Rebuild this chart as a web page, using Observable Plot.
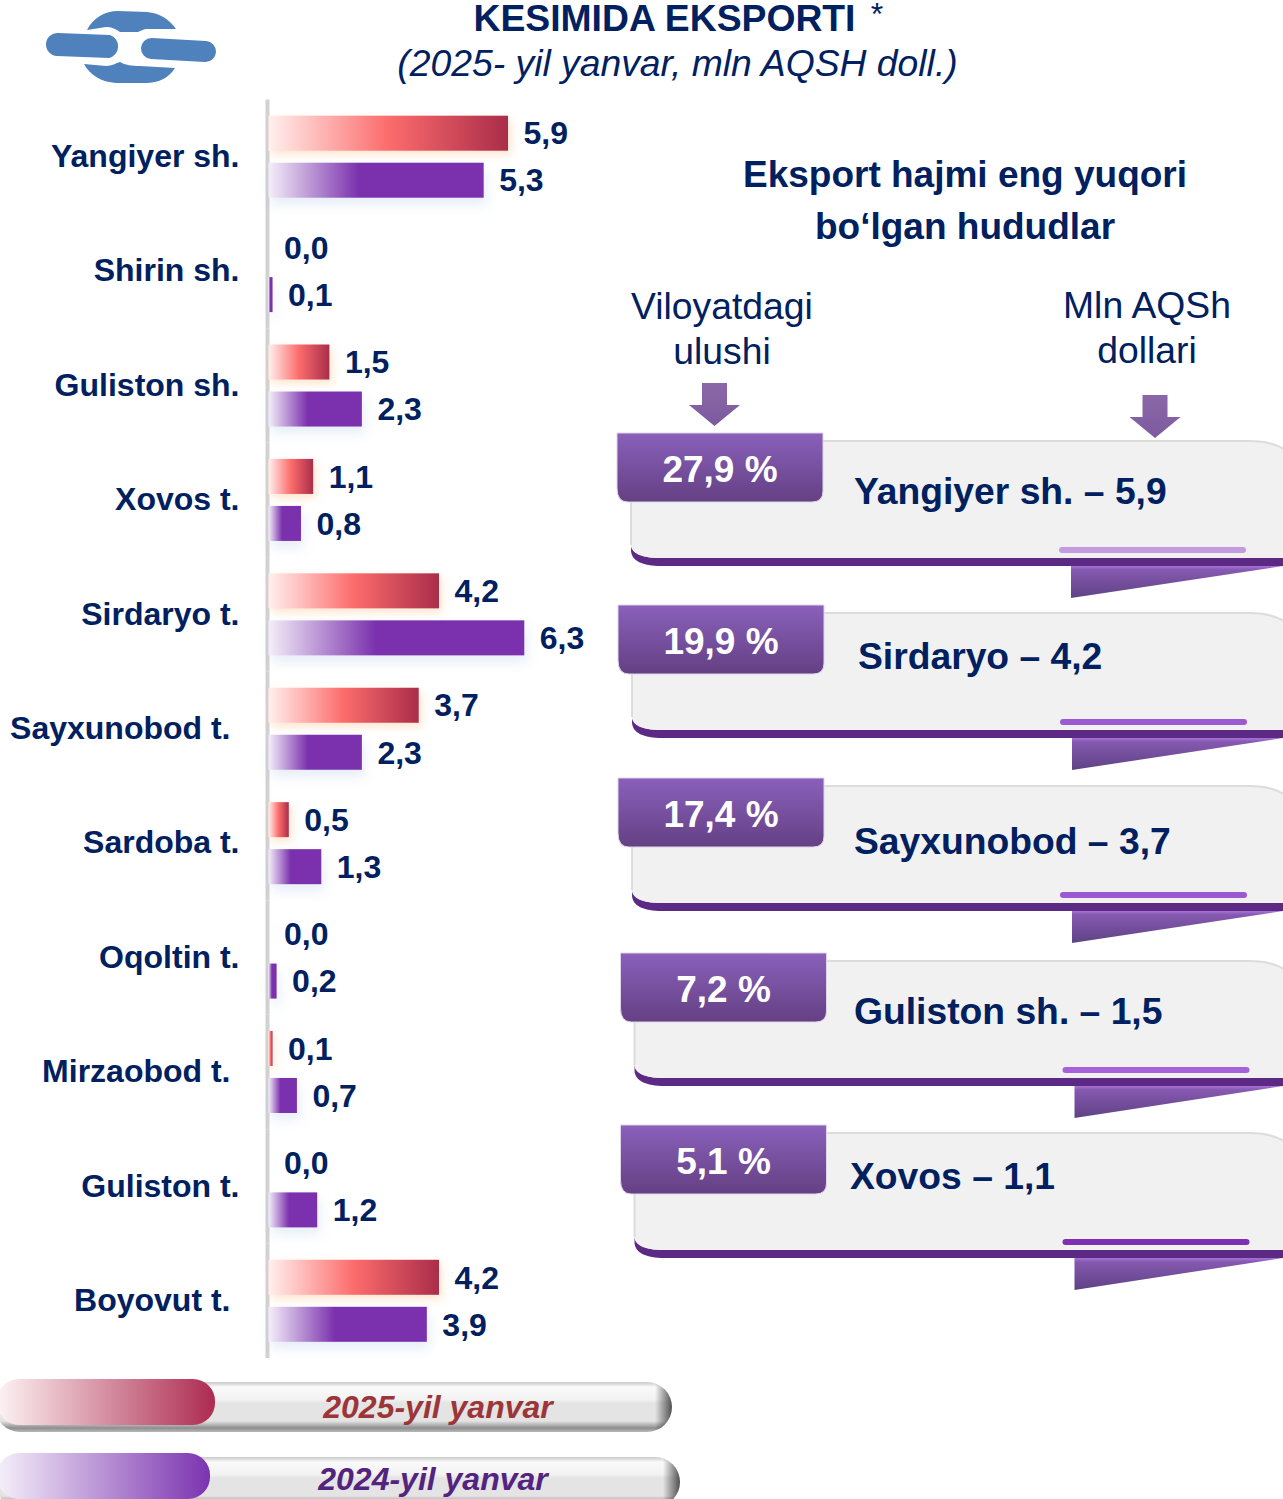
<!doctype html>
<html><head><meta charset="utf-8">
<script src="https://cdn.jsdelivr.net/npm/d3@7"></script>
<script src="https://cdn.jsdelivr.net/npm/@observablehq/plot@0.6"></script>
<style>
html,body{margin:0;padding:0;background:#fff;overflow:hidden}
svg{display:block}
g[fill="url(#barRed)"] rect{filter:drop-shadow(3px 4px 4px rgba(255,170,90,.3))}
g[fill="url(#barPurple)"] rect{filter:drop-shadow(3px 7px 6px rgba(120,160,220,.18))}
</style></head><body>
<script>
const categories = ["Yangiyer sh.","Shirin sh.","Guliston sh.","Xovos t.","Sirdaryo t.","Sayxunobod t.","Sardoba t.","Oqoltin t.","Mirzaobod t.","Guliston t.","Boyovut t."];
const values2025 = [5.9,0.0,1.5,1.1,4.2,3.7,0.5,0.0,0.1,0.0,4.2];
const values2024 = [5.3,0.1,2.3,0.8,6.3,2.3,1.3,0.2,0.7,1.2,3.9];
const seriesNames = ["2025-yil yanvar","2024-yil yanvar"];
const topNames = ["Yangiyer sh.","Sirdaryo","Sayxunobod","Guliston sh.","Xovos"];
const topValues = [5.9,4.2,3.7,1.5,1.1];
const topShares = [27.9,19.9,17.4,7.2,5.1];
const insetLabels = ["Sayxunobod t.","Mirzaobod t.","Boyovut t."];

const NAVY="#002060", FONT="'Liberation Sans',Arial,sans-serif";
const comma = v => d3.format(".1f")(v).replace(".",",");
const rows = categories.flatMap((c,i)=>[
  {cat:c,series:seriesNames[0],value:values2025[i]},
  {cat:c,series:seriesNames[1],value:values2024[i]}
]);

// layout of the decorative right column and legend
const cardLayout = [
  {tx:617,ty:433,nameX:854,nameY:491,bar:"#c39be0"},
  {tx:618,ty:605,nameX:858,nameY:656,bar:"#9b5ad2"},
  {tx:618,ty:778,nameX:854,nameY:841,bar:"#9b5ad2"},
  {tx:620.500,ty:953,nameX:854,nameY:1011,bar:"#a562da"},
  {tx:620.500,ty:1125,nameX:850,nameY:1176,bar:"#7d30b0"}
];

function defs(){
  const d=d3.create("svg:defs");
  const lin=(id,stops,dir)=>{
    const g=d.append("linearGradient").attr("id",id);
    if(dir==="v") g.attr("x1",0).attr("x2",0).attr("y1",0).attr("y2",1);
    stops.forEach(([o,c,a])=>{
      const s=g.append("stop").attr("offset",o).attr("stop-color",c);
      if(a!==undefined) s.attr("stop-opacity",a);
    });
  };
  lin("barRed",[[0,"#fff0ee"],[.5,"#fc6c6c"],[1,"#aa2d4a"]]);
  lin("barPurple",[[0,"#f4eef9"],[.42,"#7b31ad"],[1,"#7b31ad"]]);
  lin("pillRed",[[0,"#fdf3f4"],[1,"#ae2b50"]]);
  lin("pillPurple",[[0,"#f6f0fa"],[1,"#7b33b0"]]);
  lin("tab",[[0,"#8a60bb"],[1,"#644083"]],"v");
  lin("arrow",[[0,"#8a68a8"],[1,"#7d5a9e"]],"v");
  lin("tail",[[0,"#a873d6"],[.12,"#8559b0"],[1,"#5f4285"]],"v");
  lin("pill",[[0,"#c8c8c8"],[.1,"#fafafa"],[.35,"#f2f2f2"],[.42,"#e4e4e4"],[.78,"#e4e4e4"],[.92,"#8e8e8e"],[1,"#b8b8b8"]],"v");
  lin("pillEnd",[[0,"#000",0],[.975,"#000",0],[1,"#000",.65]]);
  return d.node();
}

function decor(){
  const g=d3.create("svg:g").attr("font-family",FONT);
  const text=(x,y,s,o={})=>g.append("text").attr("x",x).attr("y",y).attr("dy","0.35em")
    .attr("text-anchor",o.anchor||"middle").attr("font-size",o.size||37.300)
    .attr("font-weight",o.weight||"normal").attr("font-style",o.style||"normal")
    .attr("fill",o.fill||NAVY).text(s);

  // logo
  const logo=g.append("g").attr("fill","#4f81bd");
  logo.append("path").attr("d","M87 30C93 18 105 11 118 11L147 12C160 13 170 20 176 29L147 29C143 29 141 31 138 32L120 32C116 29 112 27 106 27Z");
  logo.append("path").attr("d","M84 64L106 66C112 66 116 63 120 62C125 65 132 66 140 66L175 68C169 78 158 83 146 83L116 83C101 82 90 75 84 64Z");
  logo.append("path").attr("d","M58 33L110 35A12 12 0 0 1 109 58L57 56A11.500 11.500 0 0 1 58 33Z");
  logo.append("path").attr("d","M152 38L206 41A10.500 10.500 0 0 1 205 62L151 59A10.500 10.500 0 0 1 152 38Z");

  // title
  text(664.500,18,"KESIMIDA EKSPORTI",{weight:"bold"});
  text(877,14,"*",{size:32});
  text(677.500,63,"(2025- yil yanvar, mln AQSH doll.)",{style:"italic"});
  text(965,174,"Eksport hajmi eng yuqori",{weight:"bold",size:37});
  text(965,226,"bo\u2018lgan hududlar",{weight:"bold",size:37});
  text(722,306,"Viloyatdagi");text(722,351,"ulushi");
  text(1147,305,"Mln AQSh");text(1147,350,"dollari");

  const arrow=(cx,y)=>g.append("path").attr("fill","url(#arrow)")
    .attr("d",`M${cx-12.500} ${y}H${cx+12.500}V${y+22}H${cx+25.500}L${cx} ${y+43}L${cx-25.500} ${y+22}H${cx-12.500}Z`);
  arrow(714.500,383);arrow(1155,395);

  // cards
  cardLayout.forEach((c,i)=>{
    const x=c.tx+14,y=c.ty+8,b=y+117;
    g.append("path").attr("fill","url(#tail)").attr("d",`M${c.tx+454} ${b+8}H1283L${c.tx+454} ${b+40}Z`);
    g.append("path").attr("fill","#5c2a84").attr("d",`M${x} ${b-13}C${x+2} ${b-3} ${x+14} ${b} ${x+30} ${b}H1283V${b+8}H${x+30}C${x+12} ${b+8} ${x} ${b+3} ${x} ${b-8}Z`);
    g.append("path").attr("fill","#f1f1f1")
      .attr("d",`M${x} ${y}H1250Q1270 ${y} 1284 ${y+8}V${b}H${x+30}C${x+12} ${b} ${x} ${b-4} ${x} ${b-13}Z`);
    g.append("path").attr("fill","none").attr("stroke","#dcdcdc").attr("stroke-width",2)
      .attr("d",`M${x} ${b-13}V${y}H1250Q1270 ${y} 1284 ${y+8}`);
    g.append("rect").attr("x",x+428).attr("y",b-11).attr("width",187).attr("height",6).attr("rx",3).attr("fill",c.bar);
    g.append("path").attr("fill","url(#tab)").attr("stroke","#e0d4ea").attr("stroke-width",1)
      .attr("d",`M${c.tx} ${c.ty}H${c.tx+206}V${c.ty+58}Q${c.tx+206} ${c.ty+69} ${c.tx+195} ${c.ty+69}H${c.tx+11}Q${c.tx} ${c.ty+69} ${c.tx} ${c.ty+55}Z`);
    text(c.tx+103,c.ty+36.500,comma(topShares[i])+" %",{fill:"#fff",weight:"bold",size:37});
    text(c.nameX,c.nameY,`${topNames[i]} \u2013 ${comma(topValues[i])}`,{anchor:"start",weight:"bold",size:37.250});
  });

  // legend
  const pill=(x0,x1,y,h,ox,o,oh,gradId,textX,textY,label,fill)=>{
    g.append("rect").attr("x",x0).attr("y",y).attr("width",x1-x0).attr("height",h).attr("rx",h/2).attr("fill","url(#pill)");
    g.append("rect").attr("x",x0).attr("y",y).attr("width",x1-x0).attr("height",h).attr("rx",h/2).attr("fill","url(#pillEnd)");
    g.append("rect").attr("x",x0+2).attr("y",o).attr("width",ox-x0-2).attr("height",oh).attr("rx",22).attr("fill",`url(#${gradId})`);
    text(textX,textY,label,{weight:"bold",style:"italic",size:32,fill});
  };
  pill(-5,672,1382,50,215,1379,46,"pillRed",438,1407,seriesNames[0],"#9c3537");
  pill(-5,680,1457,50,210,1453,46,"pillPurple",433,1479,seriesNames[1],"#53237f");
  return g.node();
}

const navyText={fill:NAVY,fontFamily:FONT,fontWeight:"bold",fontSize:32};
const chart = Plot.plot({
  width:1283,height:1499,
  marginTop:99.500,marginBottom:141,marginLeft:268.500,marginRight:608.500,
  style:{background:"#fff",fontFamily:FONT},
  x:{domain:[0,10],axis:null},
  fy:{domain:categories,padding:0,round:false,axis:null},
  y:{domain:seriesNames,paddingInner:.255,paddingOuter:.3445,round:false,axis:null},
  marks:[
    Plot.ruleX([0],{stroke:"#d2d2d2",strokeWidth:4,dx:-1.500}),
    Plot.barX(rows.filter(d=>d.series===seriesNames[0]&&d.value>0),{x:"value",y:"series",fy:"cat",fill:"url(#barRed)"}),
    Plot.barX(rows.filter(d=>d.series===seriesNames[1]&&d.value>0),{x:"value",y:"series",fy:"cat",fill:"url(#barPurple)"}),
    Plot.text(rows,{x:"value",y:"series",fy:"cat",text:d=>comma(d.value),dx:15,dy:.5,textAnchor:"start",...navyText}),
    Plot.text(categories.filter(c=>!insetLabels.includes(c)),{x:()=>0,fy:d=>d,text:d=>d,dx:-29.500,dy:-.5,textAnchor:"end",...navyText}),
    Plot.text(insetLabels,{x:()=>0,fy:d=>d,text:d=>d,dx:-38.500,dy:-.5,textAnchor:"end",...navyText})
  ]
});
const anchor=chart.querySelector("g");
chart.insertBefore(defs(),anchor);
chart.insertBefore(decor(),anchor);
document.body.append(chart);
</script>
</body></html>
